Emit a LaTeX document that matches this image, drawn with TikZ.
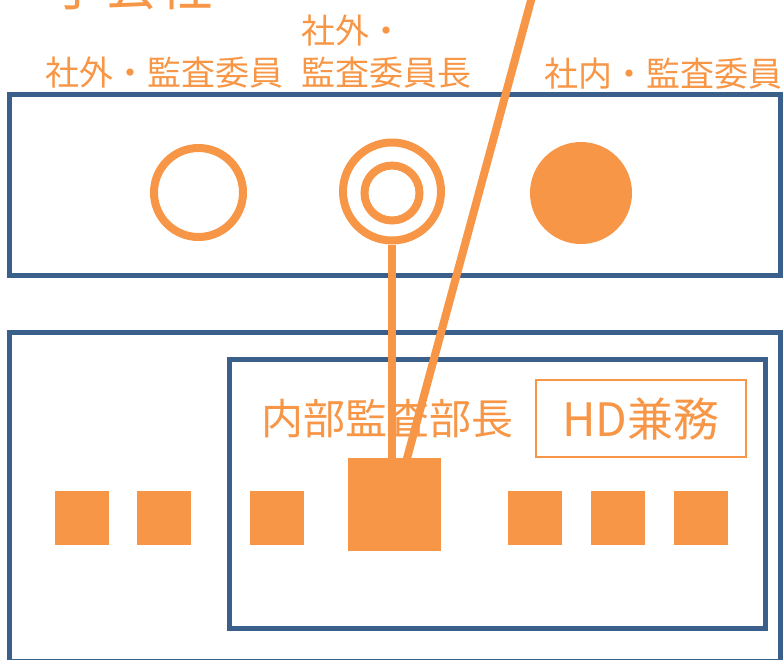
\documentclass[tikz,border=0pt]{standalone}
\usepackage{fontspec}
\setmainfont{Noto Sans CJK JP}
\definecolor{accent}{HTML}{F79646}
\definecolor{boxblue}{HTML}{3A5F8B}

\begin{document}
\begin{tikzpicture}[x=1pt,y=-1pt,
  frame/.style={draw=boxblue,line width=5pt},
  ring/.style={circle,draw=accent,line width=8pt,inner sep=0pt},
  dot/.style={circle,fill=accent,inner sep=0pt,minimum size=102pt},
  sq/.style={rectangle,fill=accent,inner sep=0pt,minimum size=54pt},
  link/.style={draw=accent,line width=8pt},
  lbl/.style={text=accent,inner sep=0pt,font=\fontsize{34}{40}\selectfont}]

  \useasboundingbox (0,0) rectangle (784,659);
  \clip (0,0) rectangle (784,659);

  % frames
  \draw[frame] (9.5,94.5) rectangle (780,275);
  \draw[frame] (9.5,332.5) rectangle (780,661);
  \draw[frame] (229.5,359.5) rectangle (765.5,628);

  % labels
  \node[lbl,anchor=base west,font=\fontsize{54}{60}\selectfont] (ko) at (50,5) {子会社};
  \node[lbl,anchor=base west] (out) at (45,85.5) {社外・監査委員};
  \node[lbl,anchor=base west] (chair1) at (301,43) {社外・};
  \node[lbl,anchor=base west] (chair2) at (301,85.5) {監査委員長};
  \node[lbl,anchor=base west] (in) at (544,86.5) {社内・監査委員};
  \node[lbl,anchor=base west,font=\fontsize{42}{48}\selectfont] (head) at (261,434) {内部監査部長};
  \node[draw=accent,line width=1.5pt,text=accent,inner sep=0pt,
    font=\fontsize{46}{50}\selectfont,minimum width=210pt,minimum height=77pt] (hd) at (641,418.5) {HD兼務};

  % members
  \node[ring,minimum size=89pt] (m1) at (198.5,192.5) {};
  \node[ring,minimum size=98pt] (m2) at (392,191.5) {};
  \node[ring,minimum size=55pt] (m2in) at (392,193) {};
  \node[dot] (m3) at (581,193) {};

  % staff
  \node[sq] (s1) at (82,518) {};
  \node[sq] (s2) at (164,518) {};
  \node[sq] (s3) at (277,518) {};
  \node[sq,minimum size=93pt] (boss) at (394.5,504.5) {};
  \node[sq] (s4) at (535,518) {};
  \node[sq] (s5) at (618,518) {};
  \node[sq] (s6) at (701,518) {};

  \coordinate (up) at (532.5,-5);

  \path[link]
    (m2.south) edge (m2.south |- boss.north)
    (up) edge (boss.center)
    ;

\end{tikzpicture}
\end{document}
